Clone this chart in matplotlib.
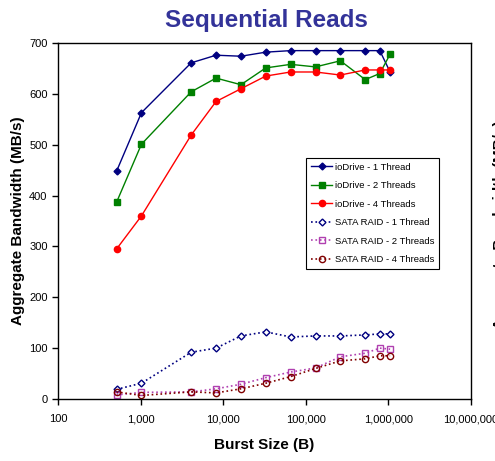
import matplotlib
matplotlib.use("Agg")
import matplotlib.pyplot as plt
from matplotlib.ticker import FuncFormatter, FixedLocator, NullLocator

plt.rcParams['font.family'] = ['Liberation Sans', 'DejaVu Sans']

burst_sizes = [512, 1024, 4096, 8192, 16384, 32768, 65536, 131072, 262144, 524288, 786432, 1048576]
io_1 = [448, 563, 661, 676, 674, 682, 685, 685, 685, 685, 685, 643]
io_2 = [387, 501, 604, 631, 618, 651, 658, 653, 665, 628, 640, 678]
io_4 = [295, 360, 519, 585, 610, 635, 643, 643, 637, 647, 647, 647]
sata_1 = [19, 31, 92, 100, 124, 132, 122, 124, 124, 126, 128, 128]
sata_2 = [8, 13, 14, 20, 29, 42, 53, 61, 83, 90, 100, 98]
sata_4 = [14, 7, 14, 12, 20, 31, 44, 60, 75, 79, 85, 85]
labels = ["ioDrive - 1 Thread", "ioDrive - 2 Threads", "ioDrive - 4 Threads",
          "SATA RAID - 1 Thread", "SATA RAID - 2 Threads", "SATA RAID - 4 Threads"]
x_ticks = [100, 1000, 10000, 100000, 1000000, 10000000]
y_ticks = [0, 100, 200, 300, 400, 500, 600, 700]

fig = plt.figure(figsize=(4.95, 4.61), dpi=100)
ax = fig.add_axes([58/495, 1-399/461, 413/495, 356/461])

ax.plot(burst_sizes, io_1, color='#000080', marker='D', ms=3.5, lw=1, label=labels[0])
ax.plot(burst_sizes, io_2, color='#008000', marker='s', ms=4.5, lw=1, label=labels[1])
ax.plot(burst_sizes, io_4, color='#FF0000', marker='o', ms=4.5, lw=1, label=labels[2])
ax.plot(burst_sizes, sata_1, color='#000080', marker='D', ms=3.5, lw=1.2, ls=':', mfc='white', label=labels[3])
ax.plot(burst_sizes, sata_2, color='#B040B0', marker='s', ms=4.5, lw=1.2, ls=':', mfc='none', label=labels[4])
ax.plot(burst_sizes, sata_4, color='#800000', marker='o', ms=4.5, lw=1.2, ls=':', mfc='none', label=labels[5])

ax.set_xscale('log')
ax.set_xlim(100, 10000000)
ax.set_ylim(0, 700)
ax.xaxis.set_major_locator(FixedLocator(x_ticks))
ax.xaxis.set_minor_locator(NullLocator())
ax.xaxis.set_major_formatter(FuncFormatter(lambda v, p: f"{int(round(v)):,}"))
ax.set_yticks(y_ticks)
ax.tick_params(axis='both', labelsize=8, direction='out', length=4, width=1)
ax.tick_params(axis='x', pad=7)
for s in ax.spines.values():
    s.set_linewidth(1)

ax.set_xlabel("Burst Size (B)", fontsize=11, fontweight='bold', labelpad=10)
ax.set_ylabel("Aggregate Bandwidth (MB/s)", fontsize=11, fontweight='bold', labelpad=3)
fig.text(266/495, 1-21/461, "Sequential Reads", ha='center', va='center',
         fontsize=17.5, fontweight='bold', color='#333399')

leg = ax.legend(loc='upper left', bbox_to_anchor=(0.59, 0.69), fontsize=6.8,
                frameon=True, fancybox=False, edgecolor='black', framealpha=1,
                handlelength=2.2, borderpad=0.5, labelspacing=1.0, handletextpad=0.3)
leg.get_frame().set_linewidth(0.8)

# clipped label from neighbouring chart at right edge
fig.text(493/495, 1-225/461, "Aggregate Bandwidth (MB/s)", rotation=90, ha='left', va='center',
         fontsize=11, fontweight='bold')

fig.savefig("out.png", dpi=100)
